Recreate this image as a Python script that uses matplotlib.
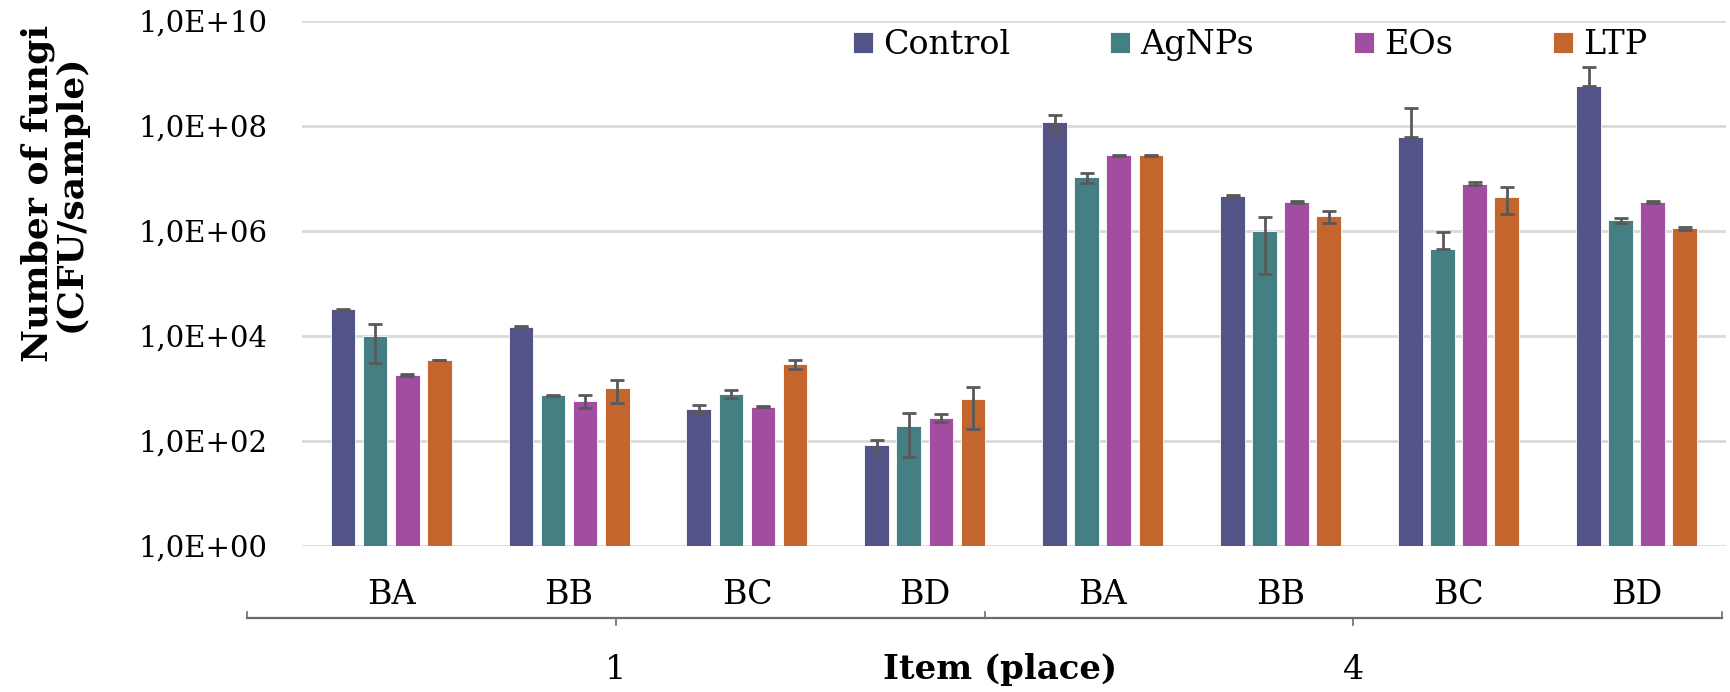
import matplotlib
matplotlib.use("Agg")
import matplotlib.pyplot as plt
import numpy as np
from matplotlib.lines import Line2D

plt.rcParams['font.family'] = ['DejaVu Serif']

categories = ['BA', 'BB', 'BC', 'BD', 'BA', 'BB', 'BC', 'BD']
items = ['1', '4']
series = ['Control', 'AgNPs', 'EOs', 'LTP']
colors = ['#525488', '#447F84', '#A14DA1', '#C4652E']

control = [3.2e4, 1.5e4, 4.1e2, 84, 1.2e8, 4.6e6, 6.3e7, 5.9e8]
control_err = [5e2, 4e2, 65, 21, 4e7, 1.5e5, 1.6e8, 7.6e8]
agnps = [1.0e4, 7.4e2, 7.9e2, 195, 1.05e7, 1.0e6, 4.5e5, 1.6e6]
agnps_err = [7e3, 20, 145, 145, 2.4e6, 8.5e5, 5.1e5, 1.8e5]
eos = [1.83e3, 5.9e2, 4.5e2, 278, 2.75e7, 3.55e6, 7.9e6, 3.6e6]
eos_err = [80, 170, 15, 52, 3e5, 1e5, 5e5, 2e5]
ltp = [3.5e3, 1.0e3, 2.9e3, 620, 2.75e7, 1.95e6, 4.5e6, 1.12e6]
ltp_err = [60, 470, 550, 450, 5e5, 5e5, 2.4e6, 6e4]

values = [control, agnps, eos, ltp]
errors = [control_err, agnps_err, eos_err, ltp_err]

fig = plt.figure(figsize=(17.31, 6.92), dpi=100)
ax = fig.add_axes([0.1745, 0.211, 0.8225, 0.7587])

x = np.arange(len(categories))
step = 0.18
width = 0.14
for i, (name, vals, errs, c) in enumerate(zip(series, values, errors, colors)):
    vals = np.array(vals, dtype=float)
    errs = np.array(errs, dtype=float)
    lower = np.where(errs < vals, errs, 0)   # Excel drops the part below zero
    pos = x + (i - 1.5) * step
    ax.bar(pos, vals, width, color=c, label=name, edgecolor='white',
           linewidth=0.6, zorder=2)
    ax.errorbar(pos, vals, yerr=[lower, errs], fmt='none', ecolor='#595959',
                elinewidth=2, capsize=5, capthick=2, zorder=3)

ax.set_yscale('log')
ax.set_ylim(1, 1e10)
ax.set_xlim(-0.5, len(categories) - 0.5)
yt = [1e0, 1e2, 1e4, 1e6, 1e8, 1e10]
ax.set_yticks(yt)
ax.set_yticklabels(['1,0E+%02d' % int(np.log10(v)) for v in yt], fontsize=21)
ax.yaxis.set_minor_locator(matplotlib.ticker.NullLocator())
ax.tick_params(axis='y', length=0, pad=25)
ax.set_xticks(x)
ax.set_xticklabels(categories, fontsize=24)
ax.tick_params(axis='x', length=0, pad=24)
ax.grid(axis='y', color='#d9d9d9', linewidth=2, zorder=0)
ax.set_axisbelow(True)
for s in ax.spines.values():
    s.set_visible(False)

# multi-level category bracket
yb = 1 - 618 / 692
xl, xm, xr = 247 / 1731, 985 / 1731, 1722 / 1731
lc = '#6b6b6b'
fig.add_artist(Line2D([xl, xr], [yb, yb], color=lc, lw=1.6))
for xx in (xl, xm, xr):
    fig.add_artist(Line2D([xx, xx], [yb, yb + 6 / 692], color=lc, lw=1.2))
item_x = [(xl + xm) / 2, (xm + xr) / 2]
for xx, lab in zip(item_x, items):
    fig.add_artist(Line2D([xx, xx], [yb, yb - 7 / 692], color=lc, lw=1.2))
    fig.text(xx, 1 - 670 / 692, lab, ha='center', va='center', fontsize=24)

fig.text(1000 / 1731, 1 - 670 / 692, 'Item (place)', ha='center', va='center',
         fontsize=24.5, fontweight='bold')
fig.text(0.031, 1 - 193 / 692, 'Number of fungi\n(CFU/sample)', rotation=90,
         ha='center', va='center', fontsize=26, fontweight='bold',
         multialignment='center', linespacing=0.95)

fig.legend(loc='center left', bbox_to_anchor=(0.485, 1 - 45 / 692), ncol=4,
           frameon=False, fontsize=24, handlelength=0.6, handleheight=0.6,
           handletextpad=0.3, columnspacing=3.0, borderaxespad=0)

fig.savefig('out.png', dpi=100)
